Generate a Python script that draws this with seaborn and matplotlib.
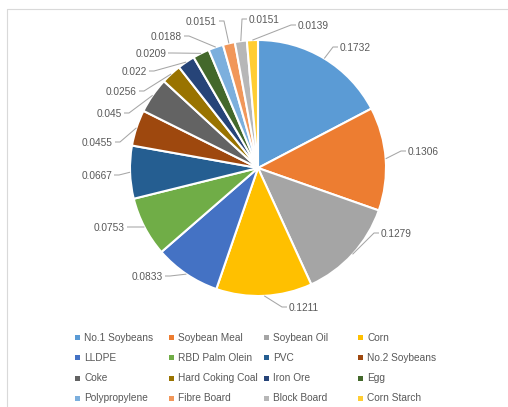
import matplotlib
matplotlib.use("Agg")
import matplotlib.pyplot as plt
from matplotlib.lines import Line2D
import seaborn as sns
import numpy as np

# ---- data ----
categories = ["No.1 Soybeans", "Soybean Meal", "Soybean Oil", "Corn",
              "LLDPE", "RBD Palm Olein", "PVC", "No.2 Soybeans",
              "Coke", "Hard Coking Coal", "Iron Ore", "Egg",
              "Polypropylene", "Fibre Board", "Block Board", "Corn Starch"]
values = [0.1732, 0.1306, 0.1279, 0.1211,
          0.0833, 0.0753, 0.0667, 0.0455,
          0.045, 0.0256, 0.022, 0.0209,
          0.0188, 0.0151, 0.0151, 0.0139]
colors = ["#5B9BD5", "#ED7D31", "#A5A5A5", "#FFC000",
          "#4472C4", "#70AD47", "#255E91", "#9E480E",
          "#636363", "#997300", "#264478", "#43682B",
          "#7CAFDD", "#F1975A", "#B7B7B7", "#FFCD33"]

# ---- layout (pixels, y from top) ----
W, H = 508, 407
CX, CY, R = 258, 168, 128
# data-label anchors (x, y, horizontal alignment)
label_layout = [(340, 47, "left"), (408, 151, "left"), (381, 233, "left"), (289, 307, "left"),
                (163, 276, "right"), (125, 227, "right"), (112, 175, "right"), (113, 142, "right"),
                (122, 113, "right"), (137, 91, "right"), (147, 71, "right"), (166, 53, "right"),
                (182, 36, "right"), (217, 21, "right"), (249, 19, "left"), (298, 25, "left")]
legend_cols_x = [74, 168, 263, 357]
legend_mid_y = 368

sns.set_theme(style="white")
plt.rcParams["font.family"] = ["Liberation Sans", "DejaVu Sans"]
TXT = "#595959"
FS = 7.3

fig = plt.figure(figsize=(W / 100, H / 100), dpi=100)
ax = fig.add_axes([0, 0, 1, 1])

palette = sns.color_palette(colors)
wedges, _ = ax.pie(values, colors=palette, startangle=90, counterclock=False,
                   center=(CX, H - CY), radius=R,
                   wedgeprops=dict(edgecolor="white", linewidth=1.5))
ax.set_xlim(0, W)
ax.set_ylim(0, H)
ax.set_aspect("equal")
ax.axis("off")

# data labels with leader lines
for w, v, (lx, ly, ha) in zip(wedges, values, label_layout):
    ang = np.deg2rad((w.theta1 + w.theta2) / 2)
    ex = CX + R * np.cos(ang)
    ey = (H - CY) + R * np.sin(ang)
    ty = H - ly
    if ha == "left":
        p1, p2 = lx - 7, lx - 2
    else:
        p1, p2 = lx + 7, lx + 2
    ax.plot([ex, p1, p2], [ey, ty, ty], color="#A6A6A6", lw=0.75,
            solid_capstyle="butt", zorder=1)
    ax.text(lx, ty - 1, f"{v:g}", ha=ha, va="center", fontsize=FS, color=TXT)

# legend: four columns, filled row-wise
for c in range(4):
    idx = [c + 4 * r for r in range(4)]
    handles = [Line2D([], [], marker="s", linestyle="", markersize=3.6,
                      markerfacecolor=palette[i], markeredgewidth=0) for i in idx]
    leg = ax.legend(handles, [categories[i] for i in idx], loc="center left",
                    bbox_to_anchor=(legend_cols_x[c] / W, 1 - legend_mid_y / H),
                    bbox_transform=fig.transFigure, frameon=False, fontsize=FS,
                    handlelength=0.6, handletextpad=0.42, borderpad=0,
                    borderaxespad=0, labelspacing=1.0, labelcolor=TXT)
    if c < 3:
        ax.add_artist(leg)

# chart area border (cropped)
fig.add_artist(Line2D([7 / W, 1], [1 - 9 / H, 1 - 9 / H], transform=fig.transFigure,
                      color="#D9D9D9", lw=0.8))
fig.add_artist(Line2D([7 / W, 7 / W], [0, 1 - 9 / H], transform=fig.transFigure,
                      color="#D9D9D9", lw=0.8))

fig.savefig("out.png", dpi=100, facecolor="white")
